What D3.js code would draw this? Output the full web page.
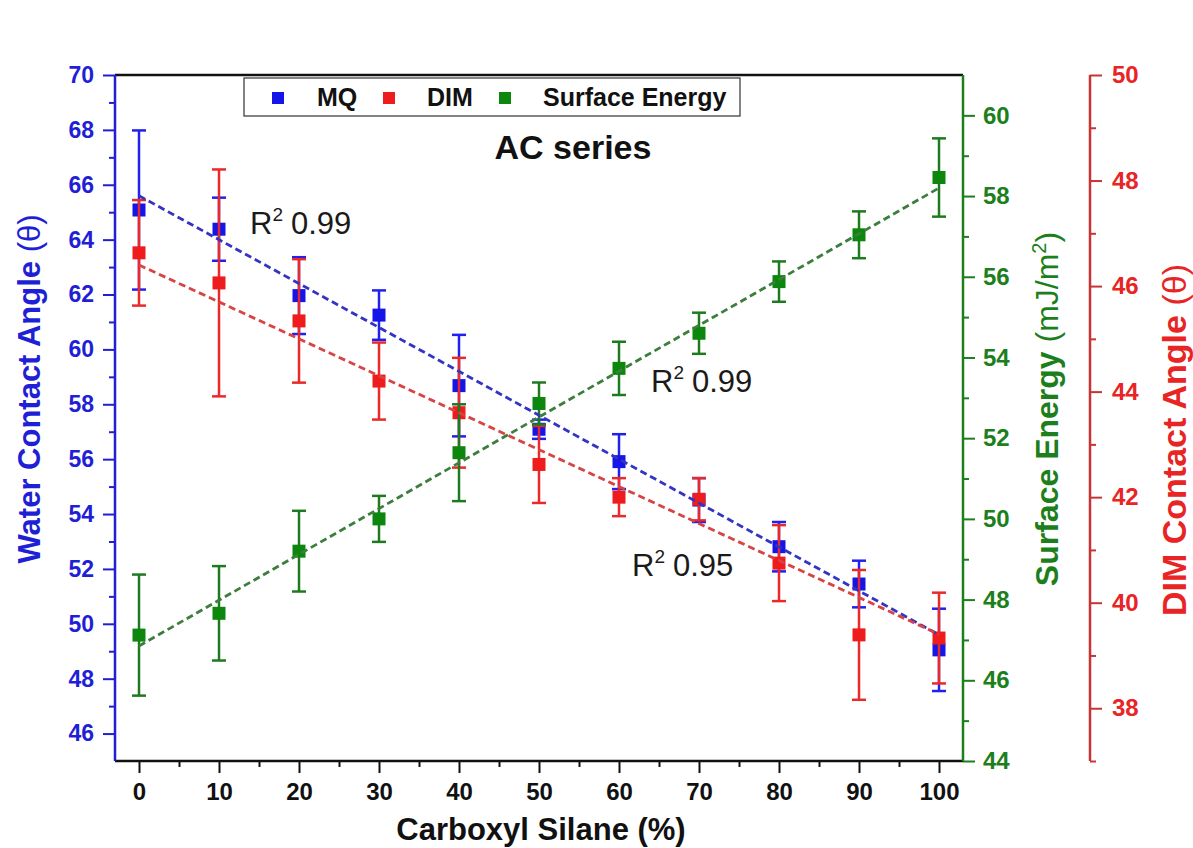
<!DOCTYPE html>
<html>
<head>
<meta charset="utf-8">
<script src="https://cdn.jsdelivr.net/npm/d3@7"></script>
<style>
  body { margin: 0; background: #fff; }
  svg text { font-family: "Liberation Sans", Arial, sans-serif; }
</style>
</head>
<body>
<svg id="chart" width="1193" height="848"></svg>
<script>
// --- data ---
const silane = [0, 10, 20, 30, 40, 50, 60, 70, 80, 90, 100];

const mq = [65.08, 64.38, 61.96, 61.25, 58.68, 57.09, 55.91, 54.51, 52.81, 51.45, 49.05];
const mqErr = [2.9, 1.15, 1.4, 0.9, 1.85, 0.35, 1.0, 0.8, 0.9, 0.85, 1.5];

const dim = [46.63, 46.06, 45.34, 44.2, 43.6, 42.62, 42.0, 41.96, 40.75, 39.39, 39.33];
const dimErr = [1.0, 2.15, 1.17, 0.73, 1.04, 0.73, 0.36, 0.4, 0.72, 1.23, 0.86];

const energy = [47.12, 47.66, 49.2, 50.0, 51.64, 52.86, 53.73, 54.6, 55.88, 57.04, 58.46];
const energyErr = [1.5, 1.17, 1.0, 0.57, 1.2, 0.52, 0.66, 0.51, 0.5, 0.58, 0.97];

// linear fit end points (x = 0 and x = 100)
const fitX = [0, 100];
const mqFit = [65.6, 49.6];
const dimFit = [46.4, 39.4];
const energyFit = [46.85, 58.2];

const fitLabels = [
  { text: "0.99", x: 250, y: 234 },
  { text: "0.99", x: 651, y: 392 },
  { text: "0.95", x: 632, y: 576 },
];

const leftTicks = d3.range(46, 71, 2);
const greenTicks = d3.range(44, 61, 2);
const redTicks = d3.range(38, 51, 2);
const xTicks = d3.range(0, 101, 10);

// --- layout ---
const svg = d3.select("#chart");
const L = 115, R = 963, T = 75, B = 761, RED_X = 1090;

const blue = "#1f1fd6", red = "#e82424", green = "#1c7f1c";

const x = d3.scaleLinear().domain([-3, 103]).range([L, R]);
const yL = d3.scaleLinear().domain([45, 70]).range([B, T]);
const yG = d3.scaleLinear().domain([44, 61]).range([B, T]);
const yR = d3.scaleLinear().domain([37, 50]).range([B, T]);

function styleAxis(g, color, size) {
  g.select(".domain").remove();
  g.selectAll("line").attr("stroke", color).attr("stroke-width", 2);
  g.selectAll("text")
    .attr("fill", color)
    .attr("font-size", size)
    .attr("font-weight", "bold");
}

// bottom axis
const gx = svg.append("g").attr("transform", `translate(0,${B})`);
gx.call(d3.axisBottom(x).tickValues(xTicks).tickSize(12).tickPadding(10).tickFormat(d3.format("d")));
styleAxis(gx, "#111", 24);
const gxm = svg.append("g").attr("transform", `translate(0,${B})`);
gxm.call(d3.axisBottom(x).tickValues(d3.range(5, 100, 10)).tickSize(6).tickFormat(""));
styleAxis(gxm, "#111", 0);

// left axis
const gl = svg.append("g").attr("transform", `translate(${L},0)`);
gl.call(d3.axisLeft(yL).tickValues(leftTicks).tickSize(12).tickPadding(9));
styleAxis(gl, blue, 23);
const glm = svg.append("g").attr("transform", `translate(${L},0)`);
glm.call(d3.axisLeft(yL).tickValues(d3.range(47, 70, 2)).tickSize(6).tickFormat(""));
styleAxis(glm, blue, 0);

// green right axis
const gg = svg.append("g").attr("transform", `translate(${R},0)`);
gg.call(d3.axisRight(yG).tickValues(greenTicks).tickSize(12).tickPadding(8));
styleAxis(gg, green, 24);
const ggm = svg.append("g").attr("transform", `translate(${R},0)`);
ggm.call(d3.axisRight(yG).tickValues(d3.range(45, 61, 2)).tickSize(6).tickFormat(""));
styleAxis(ggm, green, 0);

// red offset axis
const gr = svg.append("g").attr("transform", `translate(${RED_X},0)`);
gr.call(d3.axisRight(yR).tickValues(redTicks).tickSize(12).tickPadding(10));
styleAxis(gr, "#c83434", 24);
gr.selectAll("text").attr("fill", red);
const grm = svg.append("g").attr("transform", `translate(${RED_X},0)`);
grm.call(d3.axisRight(yR).tickValues(d3.range(37, 50, 2)).tickSize(6).tickFormat(""));
styleAxis(grm, "#c83434", 0);

// frame lines
svg.append("line").attr("x1", L).attr("x2", R).attr("y1", T).attr("y2", T)
  .attr("stroke", "#111").attr("stroke-width", 2.5);
svg.append("line").attr("x1", L).attr("x2", R).attr("y1", B).attr("y2", B)
  .attr("stroke", "#111").attr("stroke-width", 2.5);
svg.append("line").attr("x1", L).attr("x2", L).attr("y1", T).attr("y2", B)
  .attr("stroke", blue).attr("stroke-width", 2.5);
svg.append("line").attr("x1", R).attr("x2", R).attr("y1", T).attr("y2", B)
  .attr("stroke", green).attr("stroke-width", 2.5);
svg.append("line").attr("x1", RED_X).attr("x2", RED_X).attr("y1", T).attr("y2", B)
  .attr("stroke", "#c83434").attr("stroke-width", 2.5);

// --- series ---
function drawSeries(vals, errs, y, color, barColor) {
  const g = svg.append("g");
  const pts = silane.map((s, i) => ({ s, v: vals[i], e: errs[i] }));
  const cap = 7;
  g.selectAll(".bar").data(pts).join("line")
    .attr("class", "bar")
    .attr("x1", d => x(d.s)).attr("x2", d => x(d.s))
    .attr("y1", d => y(d.v - d.e)).attr("y2", d => y(d.v + d.e))
    .attr("stroke", barColor).attr("stroke-width", 2.5);
  ["lo", "hi"].forEach(side => {
    const val = d => (side === "hi" ? d.v + d.e : d.v - d.e);
    g.selectAll(".cap-" + side).data(pts).join("line")
      .attr("class", "cap-" + side)
      .attr("x1", d => x(d.s) - cap).attr("x2", d => x(d.s) + cap)
      .attr("y1", d => y(val(d))).attr("y2", d => y(val(d)))
      .attr("stroke", barColor).attr("stroke-width", 2.5);
  });
  g.selectAll(".pt").data(pts).join("rect")
    .attr("class", "pt")
    .attr("x", d => x(d.s) - 6.5).attr("y", d => y(d.v) - 6.5)
    .attr("width", 13).attr("height", 13)
    .attr("fill", color);
}

drawSeries(mq, mqErr, yL, "#1515e8", "#2020f0");
drawSeries(dim, dimErr, yR, "#ee1c1c", "#ea2a2a");
drawSeries(energy, energyErr, yG, "#0c860c", "#1e7a1e");

// fit lines
function drawFit(vals, y, color) {
  const line = d3.line().x((d, i) => x(fitX[i])).y(d => y(d));
  svg.append("path").datum(vals)
    .attr("d", line)
    .attr("fill", "none")
    .attr("stroke", color)
    .attr("stroke-width", 2.8)
    .attr("stroke-dasharray", "7,4");
}
drawFit(mqFit, yL, "#3434c4");
drawFit(dimFit, yR, "#d84444");
drawFit(energyFit, yG, "#3d7d3d");

// R^2 labels
fitLabels.forEach(f => {
  const t = svg.append("text").attr("x", f.x).attr("y", f.y)
    .attr("font-size", 31).attr("fill", "#1a1a1a");
  t.append("tspan").text("R");
  t.append("tspan").attr("font-size", 19).attr("dy", -13).text("2");
  t.append("tspan").attr("dy", 13).attr("dx", 8).text(f.text);
});

// title inside plot
svg.append("text").attr("x", 573).attr("y", 159).attr("text-anchor", "middle")
  .attr("font-size", 34).attr("font-weight", "bold").attr("fill", "#111")
  .text("AC series");

// legend
const legend = svg.append("g");
legend.append("rect").attr("x", 244).attr("y", 78).attr("width", 496).attr("height", 38)
  .attr("fill", "#fff").attr("stroke", "#333").attr("stroke-width", 1.2);
const legendItems = [
  { label: "MQ", color: "#1515e8", mx: 278, tx: 317 },
  { label: "DIM", color: "#ee1c1c", mx: 389, tx: 427 },
  { label: "Surface Energy", color: "#0c860c", mx: 505, tx: 543 },
];
legendItems.forEach(it => {
  legend.append("rect").attr("x", it.mx - 6).attr("y", 92).attr("width", 12).attr("height", 12)
    .attr("fill", it.color);
  legend.append("text").attr("x", it.tx).attr("y", 106)
    .attr("font-size", 25).attr("font-weight", "bold").attr("fill", "#111")
    .text(it.label);
});

// axis titles
svg.append("text").attr("x", 541).attr("y", 840).attr("text-anchor", "middle")
  .attr("font-size", 31).attr("font-weight", "bold").attr("fill", "#111")
  .text("Carboxyl Silane (%)");

function vTitle(cx, cy, color, main, size) {
  const t = svg.append("text")
    .attr("transform", `translate(${cx},${cy}) rotate(-90)`)
    .attr("text-anchor", "middle")
    .attr("font-size", size).attr("fill", color);
  t.append("tspan").attr("font-weight", "bold").text(main + " ");
  return t;
}
const lt = vTitle(40, 389, blue, "Water Contact Angle", 31);
lt.append("tspan").attr("font-weight", "normal").text("(θ)");

const gt = vTitle(1058, 409, green, "Surface Energy", 32);
gt.append("tspan").attr("font-weight", "normal").text("(mJ/m");
gt.append("tspan").attr("font-weight", "normal").attr("font-size", 20).attr("dy", -12).text("2");
gt.append("tspan").attr("font-weight", "normal").attr("dy", 12).text(")");

const rt = vTitle(1186, 440, red, "DIM Contact Angle", 34);
rt.append("tspan").attr("font-weight", "normal").text("(θ)");
</script>
</body>
</html>
